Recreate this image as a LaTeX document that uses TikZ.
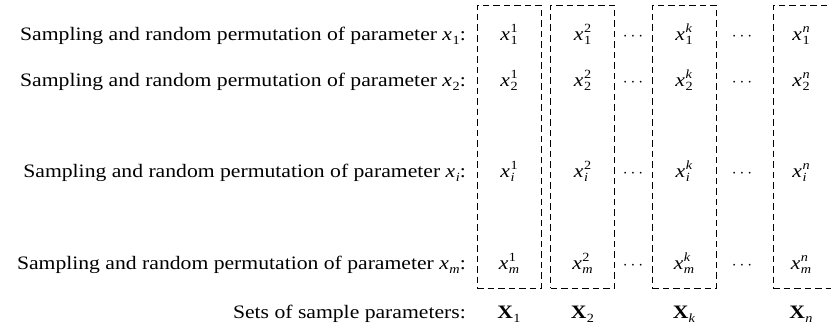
\documentclass[tikz,border=0pt]{standalone}
\usepackage{fontspec}
\setmainfont{Liberation Serif}[FakeStretch=1.14]
\newcommand{\scr}{\fontsize{12.5}{13}\selectfont}
\newcommand{\xv}[2]{\textit{x}\kern0.6pt\ooalign{\raisebox{7.5pt}{\scr #2}\cr\raisebox{-4.5pt}{\scr #1}\cr}}
\newcommand{\bX}[1]{\textbf{X}\kern0.3pt\raisebox{-4.5pt}{\scr #1}}
\begin{document}
\begin{tikzpicture}[x=1pt,y=-1pt,
  lab/.style={anchor=base east,inner sep=0pt,font=\fontsize{19}{21}\selectfont},
  cell/.style={anchor=base,inner sep=0pt,font=\fontsize{19}{21}\selectfont},
  dbox/.style={draw,line width=0.9pt,dash pattern=on 6.5pt off 4pt,inner sep=0pt,minimum width=64pt,minimum height=283pt}]
\useasboundingbox (0,0) rectangle (831,332);
\clip (0,0) rectangle (831,332);
% boxes
\node[dbox] (b1) at (509,146.5) {};
\node[dbox] (b2) at (582.5,146.5) {};
\node[dbox] (bk) at (684,146.5) {};
\node[dbox] (bn) at (805,146.5) {};
% labels
\node[lab] (l1) at (466,40) {Sampling and random permutation of parameter \xv{1}{}:};
\node[lab] (l2) at (466,86) {Sampling and random permutation of parameter \xv{2}{}:};
\node[lab] (li) at (466,177) {Sampling and random permutation of parameter \xv{\textit{i}}{}:};
\node[lab] (lm) at (466,269) {Sampling and random permutation of parameter \xv{\textit{m}}{}:};
\node[lab] (ls) at (466,318) {Sets of sample parameters:};
% cells
\foreach \r/\y in {1/40,2/86,\textit{i}/177,\textit{m}/269}{
  \node[cell] at (509,\y) {\xv{\r}{1}};
  \node[cell] at (582.5,\y) {\xv{\r}{2}};
  \node[cell] at (684,\y) {\xv{\r}{\textit{k}}};
  \node[cell] at (801,\y) {\xv{\r}{\textit{n}}};
  \node[cell] at (633,\y) {$\cdots$};
  \node[cell] at (742,\y) {$\cdots$};
}
\node[cell] (s1) at (509,318) {\bX{1}};
\node[cell] (s2) at (582.5,318) {\bX{2}};
\node[cell] (sk) at (684,318) {\bX{\textit{k}}};
\node[cell] (sn) at (801,318) {\bX{\textit{n}}};
\end{tikzpicture}
\end{document}
